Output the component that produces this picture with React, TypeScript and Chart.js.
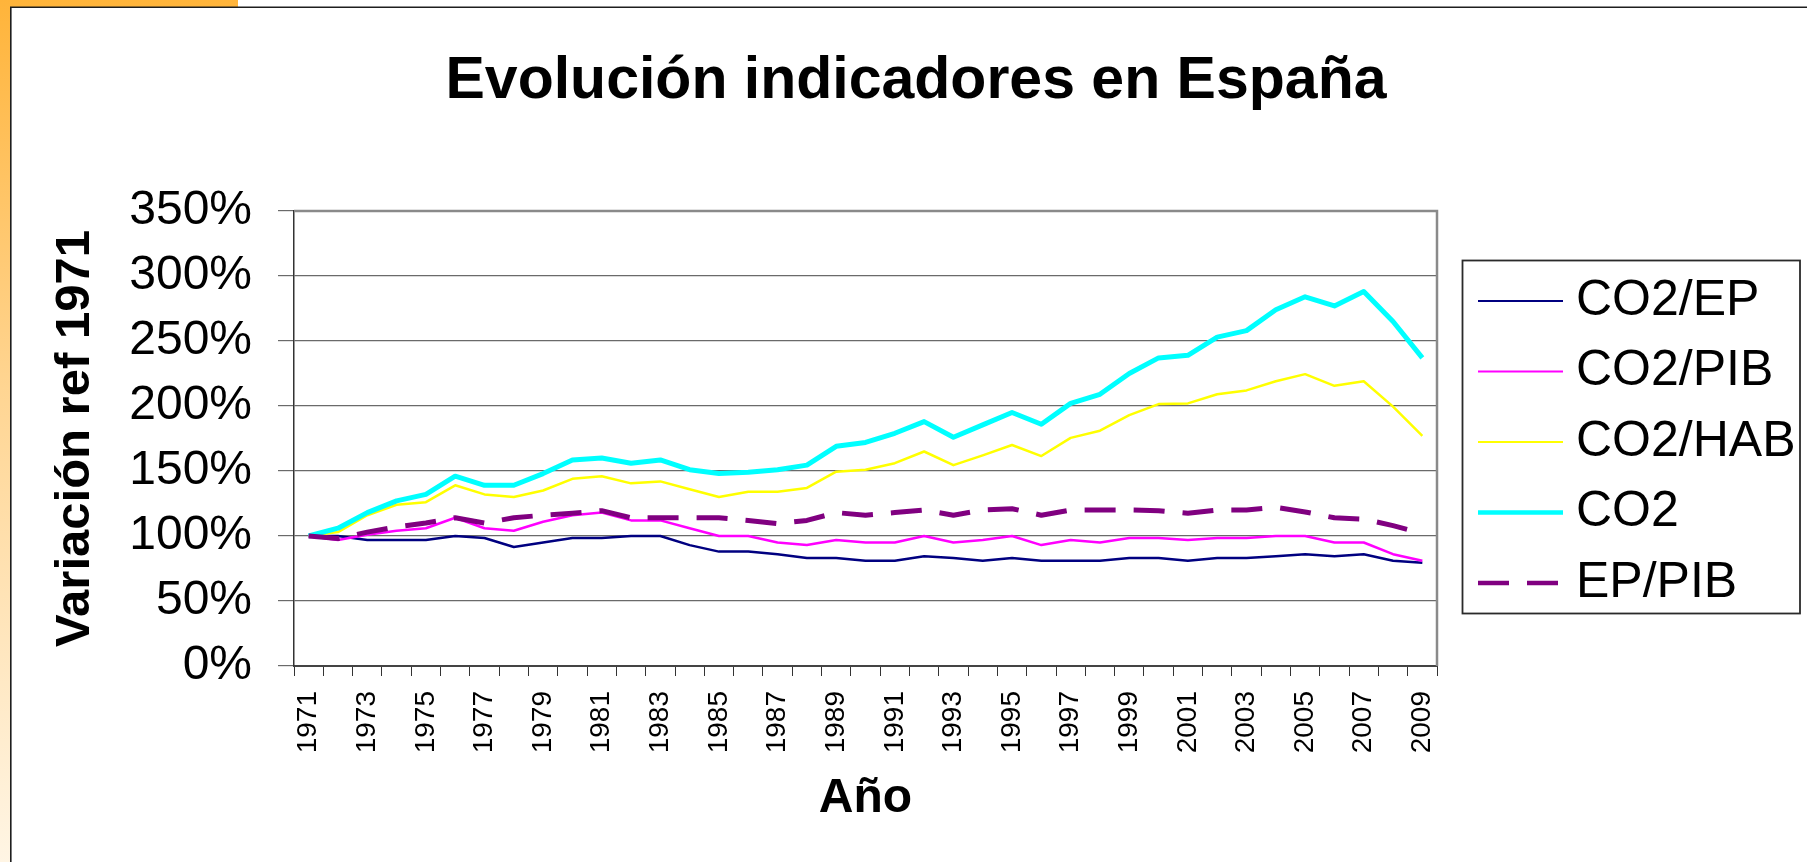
import React, { useEffect, useRef } from 'react';
import { Chart, registerables } from 'chart.js';

Chart.register(...registerables);

const years = [
  '1971', '1972', '1973', '1974', '1975', '1976', '1977', '1978', '1979', '1980',
  '1981', '1982', '1983', '1984', '1985', '1986', '1987', '1988', '1989', '1990',
  '1991', '1992', '1993', '1994', '1995', '1996', '1997', '1998', '1999', '2000',
  '2001', '2002', '2003', '2004', '2005', '2006', '2007', '2008', '2009',
];

const co2Ep = [
  100, 100, 97, 97, 97, 100, 98.5, 91.5, 95, 98.5,
  98.5, 100, 100, 93, 88, 88, 86, 83, 83, 81,
  81, 84.5, 83, 81, 83, 81, 81, 81, 83, 83,
  81, 83, 83, 84.5, 86, 84.5, 86, 81, 79.5,
];

const co2Pib = [
  100, 97, 101, 104, 106, 114, 106, 104, 111, 116,
  118, 112, 112, 106, 100, 100, 95, 93, 97, 95,
  95, 100, 95, 97, 100, 93, 97, 95, 98.5, 98.5,
  97, 98.5, 98.5, 100, 100, 95, 95, 86, 81,
];

const co2Hab = [
  100, 103, 116, 124, 126, 139, 132, 130, 135, 144,
  146, 140.5, 142, 136, 130, 134, 134, 137, 149.5, 151,
  156, 165, 154.5, 162, 170, 161.5, 175.5, 181, 193, 201.5,
  202, 209, 212, 219, 224.5, 215.5, 219, 199.5, 177,
];

const co2 = [
  100, 106, 118, 127, 132, 146, 139, 139, 148, 158.5,
  160, 156, 158.5, 151, 148, 149, 151, 154.5, 169, 172,
  179, 188, 176, 185.5, 195, 186, 202, 209, 225, 237,
  239, 253, 258, 274, 284, 277, 288, 265, 237,
];

const epPib = [
  100, 98, 103, 107, 110, 114, 110, 114, 116, 117.5,
  119.5, 114, 114, 114, 114, 112, 109.5, 112, 118, 116,
  118, 120, 116, 120, 121, 116, 120, 120, 120, 119.5,
  117.5, 120, 120, 122, 118.5, 114, 113, 108, 102,
];

const seriesLabels = ['CO2/EP', 'CO2/PIB', 'CO2/HAB', 'CO2', 'EP/PIB'];
const yTicks = [0, 50, 100, 150, 200, 250, 300, 350];

const titleText = 'Evolución indicadores en España';
const yTitleText = 'Variación ref 1971';
const xTitleText = 'Año';

const FONT = '"Liberation Sans", Arial, Helvetica, sans-serif';
const W = 1807;
const H = 862;

const seriesColors = ['#000080', '#FF00FF', '#FFFF00', '#00FFFF', '#800080'];
const seriesWidths = [2.5, 2.5, 2.5, 5, 5];
const legendWidths = [2, 2, 2, 4.5, 4.5];
const seriesDashes: number[][] = [[], [], [], [], [31, 18]];

const framePlugin = {
  id: 'framePlugin',
  beforeDraw(chart: any) {
    const { ctx, width, height } = chart;
    ctx.save();
    ctx.fillStyle = '#ffffff';
    ctx.fillRect(0, 0, width, height);
    const g = ctx.createLinearGradient(0, 0, 0, height);
    g.addColorStop(0, '#FFB43A');
    g.addColorStop(0.45, '#FFD592');
    g.addColorStop(1, '#FFF5E4');
    ctx.fillStyle = g;
    ctx.fillRect(0, 0, 10, height);
    ctx.fillRect(0, 0, 238, 7);
    ctx.strokeStyle = '#1e1e1e';
    ctx.lineWidth = 1.6;
    ctx.beginPath();
    ctx.moveTo(10.8, height);
    ctx.lineTo(10.8, 7.3);
    ctx.lineTo(width, 7.3);
    ctx.stroke();
    ctx.fillStyle = '#000';
    ctx.font = `bold 59px ${FONT}`;
    ctx.textAlign = 'center';
    ctx.textBaseline = 'alphabetic';
    ctx.fillText(titleText, 916, 97.5);
    ctx.restore();
  },
  beforeDatasetsDraw(chart: any) {
    const { ctx, chartArea } = chart;
    ctx.save();
    ctx.strokeStyle = '#8a8a8a';
    ctx.lineWidth = 2.5;
    ctx.beginPath();
    ctx.moveTo(chartArea.left, chartArea.top);
    ctx.lineTo(chartArea.right, chartArea.top);
    ctx.lineTo(chartArea.right, chartArea.bottom);
    ctx.stroke();
    ctx.restore();
  },
  afterDraw(chart: any) {
    const { ctx } = chart;
    ctx.save();
    ctx.strokeStyle = '#2a2a2a';
    ctx.lineWidth = 1.8;
    ctx.strokeRect(1462.5, 260.5, 1800 - 1462.5, 353);
    chart.data.datasets.forEach((ds: any, i: number) => {
      const y = 301 + i * 70.5;
      ctx.strokeStyle = ds.borderColor;
      ctx.lineWidth = legendWidths[i];
      ctx.setLineDash(ds.borderDash || []);
      ctx.lineCap = 'butt';
      ctx.beginPath();
      ctx.moveTo(1478, y);
      ctx.lineTo(1563, y);
      ctx.stroke();
      ctx.setLineDash([]);
      ctx.fillStyle = '#000';
      ctx.font = `50px ${FONT}`;
      ctx.textAlign = 'left';
      ctx.textBaseline = 'middle';
      ctx.fillText(ds.label, 1576, y);
    });
    ctx.restore();
  },
};

export default function App() {
  const ref = useRef<HTMLCanvasElement>(null);

  useEffect(() => {
    const seriesData = [co2Ep, co2Pib, co2Hab, co2, epPib];
    const chart = new Chart(ref.current as HTMLCanvasElement, {
      type: 'line',
      data: {
        labels: years,
        datasets: seriesLabels.map((label, i) => ({
          label,
          data: seriesData[i],
          borderColor: seriesColors[i],
          backgroundColor: seriesColors[i],
          borderWidth: seriesWidths[i],
          borderDash: seriesDashes[i],
          borderJoinStyle: 'round' as const,
          borderCapStyle: 'butt' as const,
          pointRadius: 0,
          pointHoverRadius: 0,
          tension: 0,
          fill: false,
          order: 5 - i,
        })),
      },
      options: {
        responsive: false,
        animation: false,
        events: [],
        layout: { padding: { left: 0, top: 211, right: 370, bottom: 0 } },
        plugins: {
          legend: { display: false },
          title: { display: false },
          tooltip: { enabled: false },
        },
        scales: {
          x: {
            type: 'category',
            offset: true,
            grid: {
              display: true,
              drawOnChartArea: false,
              drawTicks: true,
              tickLength: 10,
              color: '#333',
              lineWidth: 1,
              offset: true,
            },
            border: { display: true, color: '#444', width: 2 },
            ticks: {
              autoSkip: false,
              minRotation: 90,
              maxRotation: 90,
              padding: 15,
              color: '#000',
              font: { family: FONT, size: 28 },
              callback: (_v: any, i: number) => (i % 2 === 0 ? years[i] : ''),
            },
            title: {
              display: true,
              text: xTitleText,
              color: '#000',
              font: { family: FONT, size: 48, weight: 'bold', lineHeight: 1 },
              padding: { top: 0, bottom: 39 },
            },
            afterFit: (s: any) => {
              s.height = 196;
            },
          },
          y: {
            min: 0,
            max: 350,
            afterBuildTicks: (s: any) => {
              s.ticks = yTicks.map((v) => ({ value: v }));
            },
            grid: {
              color: '#6a6a6a',
              lineWidth: 1.2,
              tickLength: 16,
              drawTicks: true,
            },
            border: { display: true, color: '#333', width: 1.5 },
            ticks: {
              padding: 26,
              color: '#000',
              font: { family: FONT, size: 48 },
              callback: (v: any) => `${v}%`,
            },
            title: {
              display: true,
              text: yTitleText,
              color: '#000',
              font: { family: FONT, size: 49, weight: 'bold', lineHeight: 1 },
              padding: { top: 51, bottom: 0 },
            },
            afterFit: (s: any) => {
              s.width = 294;
            },
          },
        },
      },
      plugins: [framePlugin],
    } as any);
    return () => chart.destroy();
  }, []);

  return (
    <div style={{ position: 'fixed', left: 0, top: 0, width: W, height: H, background: '#fff' }}>
      <canvas ref={ref} width={W} height={H} style={{ display: 'block', width: W, height: H }} />
    </div>
  );
}
